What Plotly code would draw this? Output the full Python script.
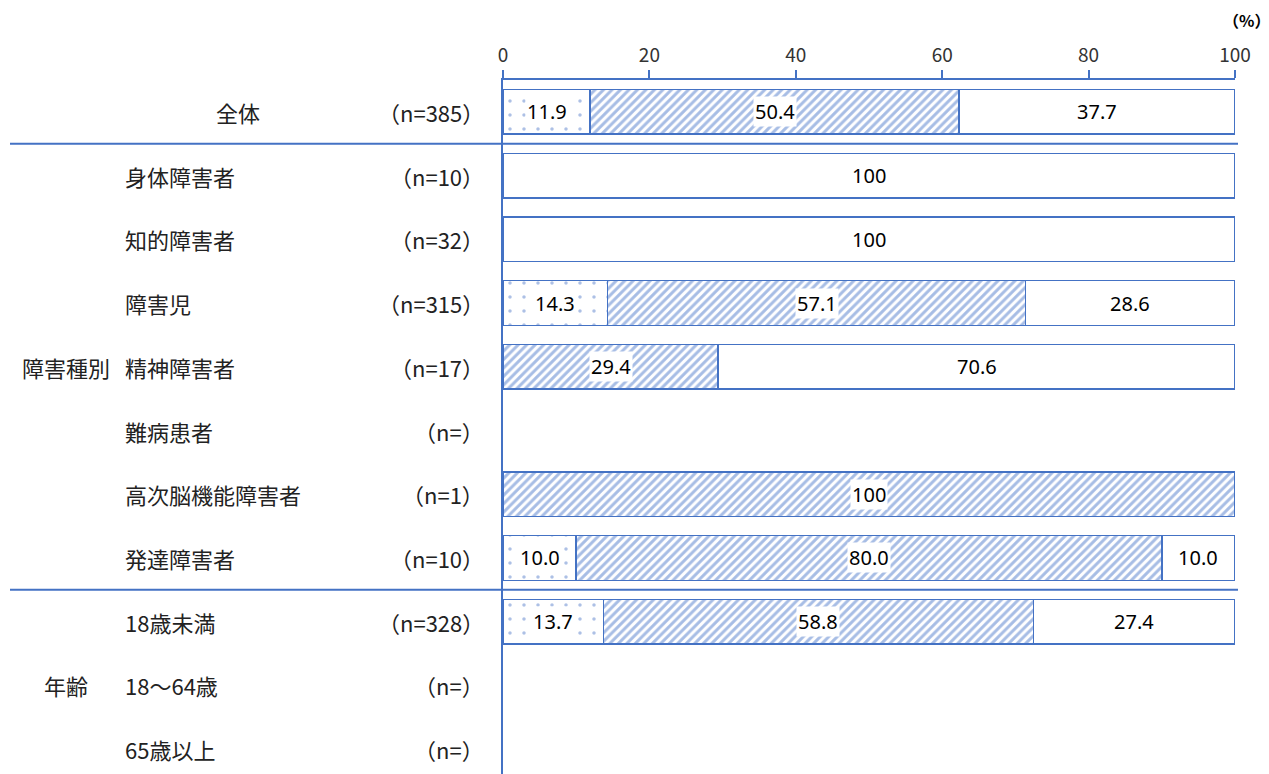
import plotly.graph_objects as go

categories = ["全体", "身体障害者", "知的障害者", "障害児", "精神障害者", "難病患者",
              "高次脳機能障害者", "発達障害者", "18歳未満", "18～64歳", "65歳以上"]
n_labels = ["（n=385）", "（n=10）", "（n=32）", "（n=315）", "（n=17）", "（n=）",
            "（n=1）", "（n=10）", "（n=328）", "（n=）", "（n=）"]
group_labels = [("障害種別", "精神障害者"), ("年齢", "18～64歳")]

dotted = [11.9, None, None, 14.3, None, None, None, 10.0, 13.7, None, None]
hatched = [50.4, None, None, 57.1, 29.4, None, 100, 80.0, 58.8, None, None]
blank = [37.7, 100, 100, 28.6, 70.6, None, None, 10.0, 27.4, None, None]

BLUE = "#4472C4"
JP = "Noto Sans CJK JP"

fig = go.Figure()
fig.add_trace(go.Bar(
    y=categories, x=dotted, orientation="h", width=0.7, name="dotted",
    marker=dict(color="white", line=dict(color=BLUE, width=1.5),
                pattern=dict(shape=".", fgcolor="#5B82CC", bgcolor="white", size=14, solidity=0.05)),
))
fig.add_trace(go.Bar(
    y=categories, x=hatched, orientation="h", width=0.7, name="hatched",
    marker=dict(color="white", line=dict(color=BLUE, width=1.5),
                pattern=dict(shape="/", fgcolor="#4F7BCB", bgcolor="white", size=6, solidity=0.5)),
))
fig.add_trace(go.Bar(
    y=categories, x=blank, orientation="h", width=0.7, name="blank",
    marker=dict(color="white", line=dict(color=BLUE, width=1.5)),
))

annotations = []
# value labels, centred in each segment
for i, cat in enumerate(categories):
    start = 0
    for series in (dotted, hatched, blank):
        v = series[i]
        if v is None:
            continue
        txt = "100" if v == 100 else f"{v:.1f}"
        annotations.append(dict(
            x=start + v / 2, y=cat, xref="x", yref="y", text=txt, showarrow=False,
            bgcolor="white", borderpad=1,
            font=dict(family="Noto Sans", size=20, color="black"),
        ))
        start += v

# page body has an 8px margin, so screen x -> paper x
def px(x):
    return (x - 503) / 732

for i, cat in enumerate(categories):
    if i == 0:
        annotations.append(dict(x=px(238), y=cat, xref="paper", yref="y", text=cat,
                                showarrow=False, xanchor="center",
                                font=dict(family=JP, size=22, color="#222222")))
    else:
        annotations.append(dict(x=px(123), y=cat, xref="paper", yref="y", text=cat,
                                showarrow=False, xanchor="left",
                                font=dict(family=JP, size=22, color="#222222")))
    annotations.append(dict(x=px(486), y=cat, xref="paper", yref="y", text=n_labels[i],
                            showarrow=False, xanchor="right",
                            font=dict(family=JP, size=22, color="#222222")))

for text, row in group_labels:
    annotations.append(dict(x=px(66), y=row, xref="paper", yref="y", text=text,
                            showarrow=False, xanchor="center",
                            font=dict(family=JP, size=22, color="#222222")))

annotations.append(dict(x=px(1246), y=1, yref="paper", xref="paper", yshift=46, text="<b>（%）</b>",
                        showarrow=False, xanchor="center", yanchor="bottom",
                        font=dict(family=JP, size=16, color="black")))

shapes = [
    dict(type="line", xref="paper", yref="y", x0=px(10), x1=px(1238), y0=0.5, y1=0.5,
         line=dict(color=BLUE, width=2)),
    dict(type="line", xref="paper", yref="y", x0=px(10), x1=px(1238), y0=7.5, y1=7.5,
         line=dict(color=BLUE, width=2)),
]

fig.update_layout(
    barmode="stack",
    width=1261, height=766,
    margin=dict(l=495, r=34, t=72, b=0),
    plot_bgcolor="white", paper_bgcolor="white",
    showlegend=False,
    annotations=annotations,
    shapes=shapes,
    xaxis=dict(side="top", range=[0, 100], tickvals=[0, 20, 40, 60, 80, 100],
               showgrid=False, zeroline=False, showline=True, linecolor=BLUE, linewidth=2,
               ticks="outside", ticklen=8, tickcolor=BLUE, tickwidth=2,
               tickfont=dict(family=JP, size=19, color="#333333")),
    yaxis=dict(categoryorder="array", categoryarray=categories, range=[10.39, -0.5],
               showticklabels=False, showgrid=False, zeroline=False,
               showline=True, linecolor=BLUE, linewidth=1.5, ticks=""),
)

fig.write_html("out.html")
